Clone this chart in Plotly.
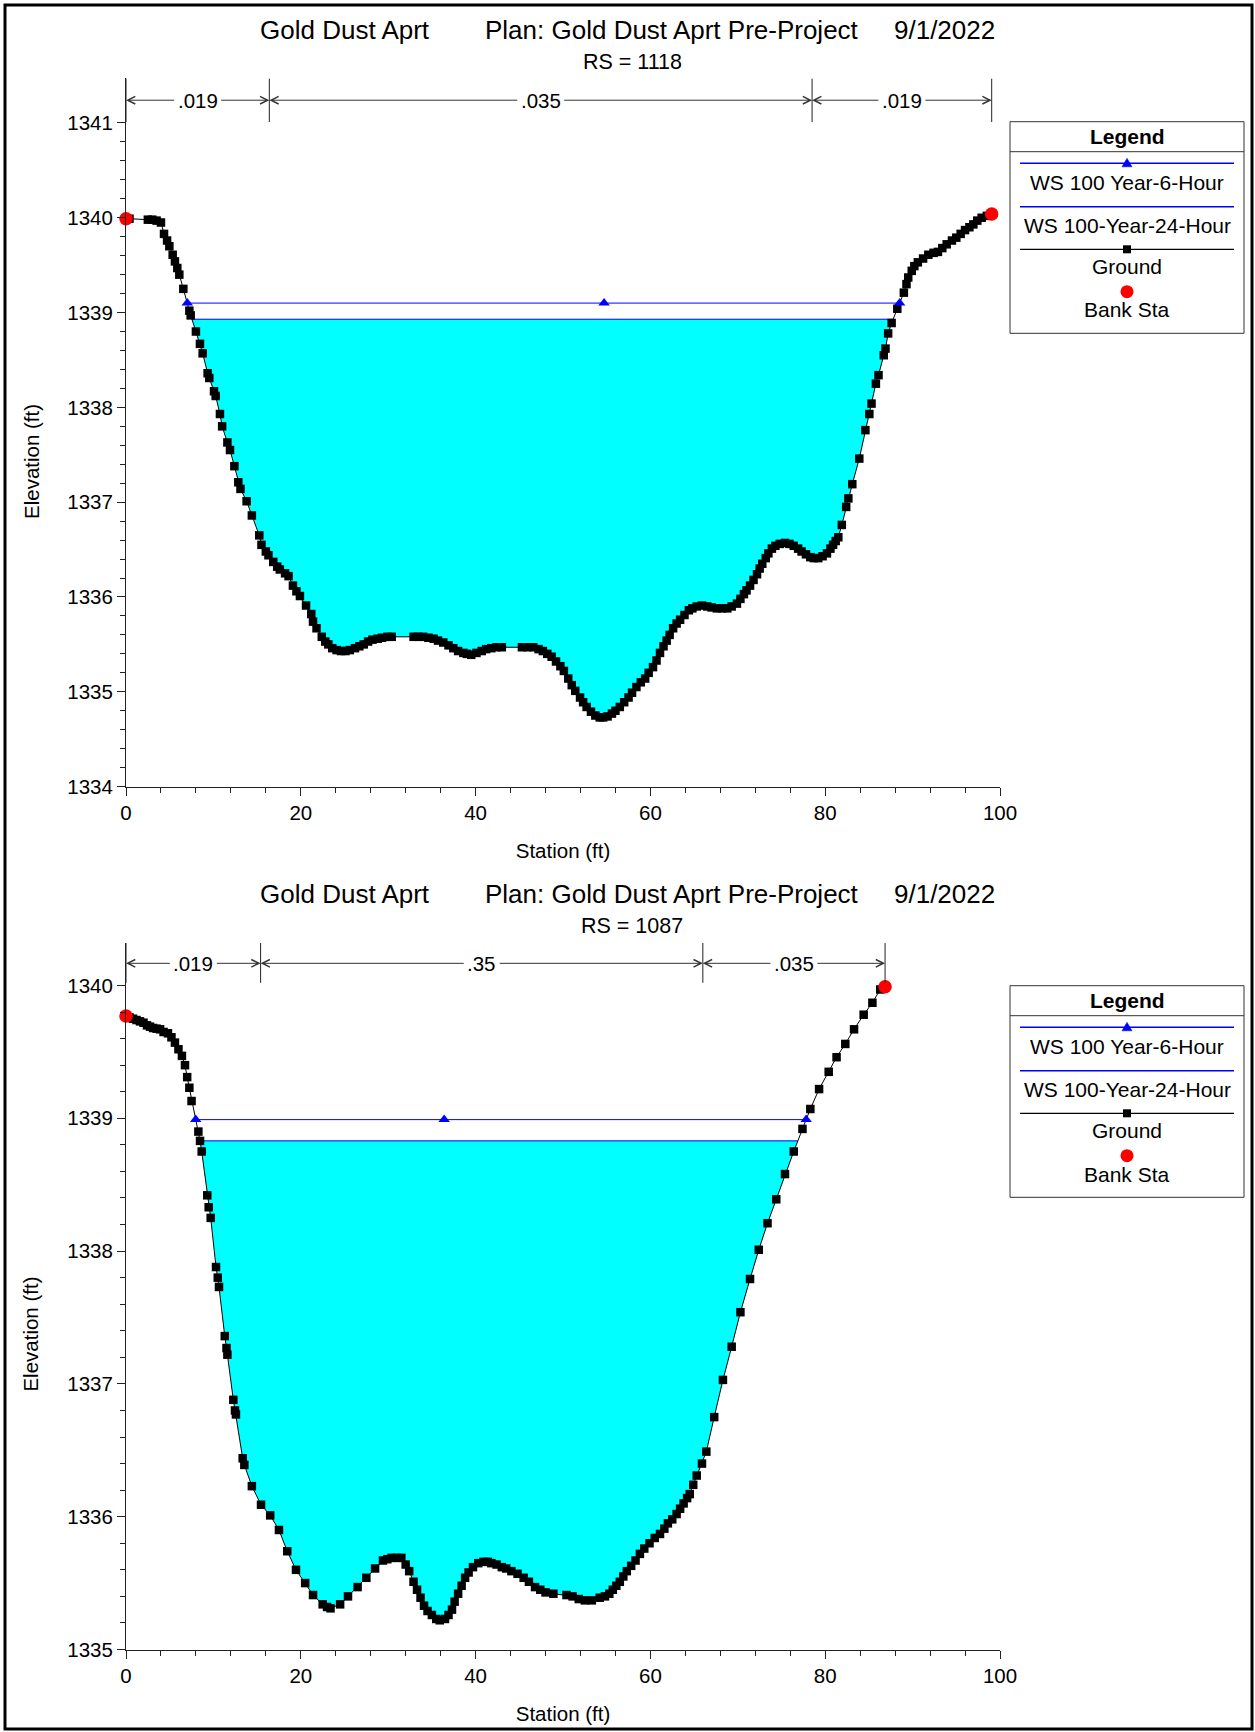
import numpy as np
import plotly.graph_objects as go

W, H = 1255, 1732

# ---------------- data : RS = 1118 ----------------
top_sta = [0.0, 0.4, 2.5, 3.0, 3.5, 4.0, 4.35, 4.7, 4.96, 5.34, 5.6, 5.87, 6.1, 6.56, 7.25, 7.4,
           8.0, 8.46, 8.77, 9.34, 9.53, 10.07, 10.26, 10.75, 11.0, 11.6, 11.9, 12.4, 12.85, 13.1,
           13.8, 14.4, 15.25, 15.5, 16.0, 16.3, 16.85, 17.3, 17.6, 18.2, 18.6, 19.1, 19.5, 19.9,
           20.6, 21.2, 21.4, 21.8, 22.4, 22.8, 23.15, 23.6, 24.1, 24.6, 25.1, 25.6, 26.2, 26.7,
           27.2, 27.7, 28.2, 28.8, 29.3, 29.9, 30.4, 32.9, 33.4, 34.0, 34.6, 35.2, 35.7, 36.3,
           36.9, 37.45, 38.0, 38.6, 39.0, 39.5, 40.1, 40.7, 41.2, 41.8, 42.4, 43.0, 45.3, 45.9,
           46.6, 47.2, 47.7, 48.2, 48.7, 49.2, 49.7, 50.1, 50.6, 51.0, 51.4, 51.95, 52.3, 52.7,
           53.2, 53.7, 54.2, 54.6, 55.1, 55.6, 56.0, 56.5, 57.0, 57.5, 57.9, 58.4, 58.9, 59.4,
           59.8, 60.3, 60.7, 61.1, 61.5, 61.86, 62.2, 62.6, 63.0, 63.4, 63.9, 64.4, 64.8, 65.3,
           65.9, 66.5, 67.0, 67.6, 68.2, 68.8, 69.3, 69.9, 70.3, 70.7, 71.0, 71.4, 71.8, 72.2,
           72.5, 72.8, 73.2, 73.5, 73.9, 74.3, 74.8, 75.4, 75.9, 76.4, 76.9, 77.3, 77.8, 78.3,
           78.7, 79.2, 79.7, 80.2, 80.6, 80.9, 81.2, 81.5, 81.9, 82.4, 82.65, 83.1, 83.9, 84.6,
           85.05, 85.3, 85.8, 86.1, 86.7, 86.9, 87.2, 87.6, 88.25, 89.0, 89.3, 89.5, 89.9, 90.2,
           90.6, 91.2, 91.8, 92.4, 92.9, 93.4, 93.9, 94.5, 95.0, 95.5, 96.0, 96.5, 96.95, 97.4,
           97.9, 98.5, 99.05]
top_elev = [1339.99, 1339.99, 1339.98, 1339.98, 1339.97, 1339.95, 1339.83, 1339.76, 1339.70,
            1339.61, 1339.54, 1339.47, 1339.40, 1339.25, 1339.02, 1338.97, 1338.80, 1338.67,
            1338.57, 1338.36, 1338.31, 1338.17, 1338.12, 1337.93, 1337.80, 1337.63, 1337.55,
            1337.38, 1337.21, 1337.14, 1337.01, 1336.86, 1336.65, 1336.55, 1336.48, 1336.44,
            1336.37, 1336.32, 1336.29, 1336.25, 1336.22, 1336.12, 1336.06, 1336.01, 1335.91,
            1335.82, 1335.74, 1335.67, 1335.58, 1335.53, 1335.50, 1335.46, 1335.44, 1335.43,
            1335.43, 1335.44, 1335.46, 1335.48, 1335.50, 1335.53, 1335.55, 1335.56, 1335.57,
            1335.58, 1335.58, 1335.58, 1335.58, 1335.58, 1335.57, 1335.56, 1335.54, 1335.52,
            1335.49, 1335.46, 1335.43, 1335.41, 1335.40, 1335.39, 1335.41, 1335.43, 1335.45,
            1335.46, 1335.47, 1335.47, 1335.47, 1335.47, 1335.47, 1335.45, 1335.43, 1335.40,
            1335.37, 1335.32, 1335.27, 1335.22, 1335.14, 1335.07, 1335.01, 1334.94, 1334.89,
            1334.84, 1334.79, 1334.75, 1334.73, 1334.73, 1334.74, 1334.77, 1334.80, 1334.84,
            1334.89, 1334.94, 1334.99, 1335.05, 1335.10, 1335.14, 1335.20, 1335.26, 1335.33,
            1335.41, 1335.48, 1335.54, 1335.60, 1335.67, 1335.72, 1335.76, 1335.81, 1335.86,
            1335.88, 1335.90, 1335.91, 1335.90, 1335.89, 1335.88, 1335.88, 1335.88, 1335.90,
            1335.93, 1335.98, 1336.03, 1336.07, 1336.12, 1336.18, 1336.24, 1336.30, 1336.35,
            1336.41, 1336.46, 1336.51, 1336.54, 1336.56, 1336.57, 1336.56, 1336.54, 1336.51,
            1336.48, 1336.45, 1336.42, 1336.41, 1336.41, 1336.43, 1336.46, 1336.51, 1336.55,
            1336.59, 1336.63, 1336.76, 1336.95, 1337.04, 1337.19, 1337.46, 1337.76, 1337.93,
            1338.04, 1338.25, 1338.34, 1338.55, 1338.62, 1338.78, 1338.89, 1339.04, 1339.21,
            1339.30, 1339.37, 1339.44, 1339.49, 1339.53, 1339.57, 1339.61, 1339.63, 1339.64,
            1339.68, 1339.72, 1339.76, 1339.79, 1339.83, 1339.87, 1339.90, 1339.93, 1339.97,
            1340.00, 1340.02, 1340.04]
top_bank_sta = [0.0, 99.05]
top_ws6 = 1339.10
top_ws24 = 1338.93
top_ws6_mid = 54.7
top_n_sta = [0.0, 16.4, 78.5, 99.05]
top_n_val = [".019", ".035", ".019"]

# ---------------- data : RS = 1087 ----------------
bot_sta = [0.0, 0.4, 0.8, 1.2, 1.6, 2.0, 2.4, 2.75, 3.1, 3.5, 3.9, 4.3, 4.8, 5.2, 5.6, 6.0, 6.4,
           6.75, 7.0, 7.25, 7.5, 8.28, 8.47, 8.66, 9.3, 9.46, 9.69, 10.3, 10.5, 10.64, 11.3, 11.5,
           11.6, 12.28, 12.47, 12.58, 13.35, 13.54, 14.4, 15.45, 16.5, 17.5, 18.45, 19.45, 20.5,
           21.4, 22.5, 23.0, 23.4, 24.5, 25.4, 26.5, 27.5, 28.5, 29.4, 29.9, 30.4, 31.0, 31.5,
           32.0, 32.4, 32.9, 33.3, 33.7, 34.1, 34.5, 35.0, 35.5, 35.9, 36.5, 36.9, 37.3, 37.6,
           38.0, 38.4, 38.8, 39.2, 39.7, 40.3, 40.9, 41.4, 41.8, 42.4, 43.0, 43.5, 44.1, 44.8,
           45.5, 46.1, 46.8, 47.4, 48.0, 48.9, 50.4, 51.1, 51.8, 52.5, 53.3, 54.2, 54.8, 55.3,
           55.7, 56.1, 56.5, 56.9, 57.3, 57.8, 58.3, 58.8, 59.3, 59.9, 60.5, 61.1, 61.6, 62.0,
           62.5, 63.0, 63.4, 63.8, 64.2, 64.5, 64.9, 65.3, 65.9, 66.4, 67.3, 68.3, 69.3, 70.3,
           71.4, 72.4, 73.4, 74.4, 75.4, 76.4, 77.4, 78.3, 79.3, 80.4, 81.3, 82.3, 83.3, 84.4,
           85.4, 86.3, 86.85]
bot_elev = [1339.77, 1339.76, 1339.75, 1339.74, 1339.73, 1339.72, 1339.70, 1339.69, 1339.68,
            1339.675, 1339.67, 1339.65, 1339.64, 1339.61, 1339.57, 1339.52, 1339.47, 1339.40,
            1339.31, 1339.23, 1339.13, 1338.90, 1338.83, 1338.75, 1338.42, 1338.33, 1338.25,
            1337.88, 1337.80, 1337.73, 1337.36, 1337.27, 1337.22, 1336.88, 1336.80, 1336.77,
            1336.44, 1336.39, 1336.23, 1336.09, 1336.01, 1335.90, 1335.74, 1335.60, 1335.50,
            1335.41, 1335.34, 1335.32, 1335.31, 1335.34, 1335.40, 1335.47, 1335.54, 1335.61,
            1335.67, 1335.68, 1335.69, 1335.69, 1335.69, 1335.64, 1335.59, 1335.51, 1335.45,
            1335.39, 1335.33, 1335.29, 1335.26, 1335.23, 1335.22, 1335.23, 1335.26, 1335.30,
            1335.36, 1335.42, 1335.48, 1335.54, 1335.58, 1335.62, 1335.65, 1335.66, 1335.66,
            1335.65, 1335.64, 1335.62, 1335.61, 1335.59, 1335.57, 1335.54, 1335.51, 1335.47,
            1335.45, 1335.43, 1335.42, 1335.41, 1335.40, 1335.38, 1335.37, 1335.37, 1335.39,
            1335.40, 1335.42, 1335.45, 1335.48, 1335.51, 1335.55, 1335.59, 1335.63, 1335.67,
            1335.72, 1335.76, 1335.80, 1335.84, 1335.87, 1335.91, 1335.95, 1335.98, 1336.02,
            1336.06, 1336.10, 1336.14, 1336.17, 1336.24, 1336.31, 1336.40, 1336.49, 1336.75,
            1337.03, 1337.28, 1337.54, 1337.79, 1338.01, 1338.21, 1338.39, 1338.58, 1338.75,
            1338.92, 1339.07, 1339.22, 1339.35, 1339.46, 1339.56, 1339.67, 1339.78, 1339.87,
            1339.97, 1339.99]
bot_bank_sta = [0.0, 86.85]
bot_ws6 = 1338.99
bot_ws24 = 1338.83
bot_ws6_mid = 36.4
bot_n_sta = [0.0, 15.4, 66.0, 86.85]
bot_n_val = [".019", ".35", ".035"]

title_parts = ["Gold Dust Aprt", "Plan: Gold Dust Aprt Pre-Project", "9/1/2022"]
rs_labels = ["RS = 1118", "RS = 1087"]
legend_names = ["WS 100 Year-6-Hour", "WS 100-Year-24-Hour", "Ground", "Bank Sta"]
x_tick_vals = [0, 20, 40, 60, 80, 100]
top_y_ticks = [1334, 1335, 1336, 1337, 1338, 1339, 1340, 1341]
bot_y_ticks = [1335, 1336, 1337, 1338, 1339, 1340]

# ---------------- styling / layout constants ----------------
FONT = "Liberation Sans, Arial, sans-serif"
BLUE = "#0000FF"
CYAN = "#00FFFF"
RED = "#FF0000"
AXC = "#222222"


def px(x):
    return x / W


def py(y):
    return 1 - y / H


panels = [
    dict(sta=top_sta, elev=top_elev, bank=top_bank_sta, ws6=top_ws6, ws24=top_ws24,
         mid=top_ws6_mid, nsta=top_n_sta, nval=top_n_val, rs=rs_labels[0],
         ybot=786.6, ytop=78.4, yrange=[1334, 1341.47], yticks=top_y_ticks,
         nlevel=1341.24, nbar=[1341.01, 1341.47], off=0.0, ytitle_y=462),
    dict(sta=bot_sta, elev=bot_elev, bank=bot_bank_sta, ws6=bot_ws6, ws24=bot_ws24,
         mid=bot_ws6_mid, nsta=bot_n_sta, nval=bot_n_val, rs=rs_labels[1],
         ybot=1649.5, ytop=943.0, yrange=[1335, 1340.32], yticks=bot_y_ticks,
         nlevel=1340.167, nbar=[1340.02, 1340.32], off=864.0, ytitle_y=1334.6),
]


def crossings(xs, ys, level):
    xl = xr = None
    for i in range(len(xs) - 1):
        if ys[i] >= level > ys[i + 1]:
            xl = xs[i] + (ys[i] - level) / (ys[i] - ys[i + 1]) * (xs[i + 1] - xs[i])
            break
    for i in range(len(xs) - 2, -1, -1):
        if ys[i] < level <= ys[i + 1]:
            xr = xs[i] + (level - ys[i]) / (ys[i + 1] - ys[i]) * (xs[i + 1] - xs[i])
            break
    return xl, xr


fig = go.Figure()
shapes = []
annotations = []
layout_axes = {}

for k, p in enumerate(panels):
    xa = "x" if k == 0 else "x2"
    ya = "y" if k == 0 else "y2"
    xs = p["sta"]
    ys = p["elev"]

    # water fill under WS 24 hour
    xl, xr = crossings(xs, ys, p["ws24"])
    inner = [(x, y) for x, y in zip(xs, ys) if xl < x < xr]
    fx = [xl] + [a for a, _ in inner] + [xr, xl]
    fy = [p["ws24"]] + [b for _, b in inner] + [p["ws24"], p["ws24"]]
    fig.add_trace(go.Scatter(x=fx, y=fy, mode="lines", fill="toself", fillcolor=CYAN,
                             line=dict(width=0, color=CYAN), xaxis=xa, yaxis=ya,
                             showlegend=False, hoverinfo="skip"))
    fig.add_trace(go.Scatter(x=[xl, xr], y=[p["ws24"], p["ws24"]], mode="lines",
                             line=dict(color=BLUE, width=1), name=legend_names[1],
                             xaxis=xa, yaxis=ya, showlegend=False))
    # ground
    fig.add_trace(go.Scatter(x=xs, y=ys, mode="lines+markers",
                             line=dict(color="black", width=1),
                             marker=dict(symbol="square", size=8.5, color="black"),
                             name=legend_names[2], xaxis=xa, yaxis=ya, showlegend=False,
                             cliponaxis=False))
    # WS 6 hour
    xl6, xr6 = crossings(xs, ys, p["ws6"])
    fig.add_trace(go.Scatter(x=[xl6, p["mid"], xr6], y=[p["ws6"]] * 3, mode="lines+markers",
                             line=dict(color=BLUE, width=1),
                             marker=dict(symbol="triangle-up", size=10, color=BLUE),
                             name=legend_names[0], xaxis=xa, yaxis=ya, showlegend=False,
                             cliponaxis=False))
    # bank stations
    fig.add_trace(go.Scatter(x=p["bank"], y=list(np.interp(p["bank"], xs, ys)), mode="markers",
                             marker=dict(symbol="circle", size=13.5, color=RED),
                             name=legend_names[3], xaxis=xa, yaxis=ya, showlegend=False,
                             cliponaxis=False))

    # axes
    minor_vals = [round(v, 1) for v in np.arange(p["yticks"][0], p["yticks"][-1] + 1e-6, 0.2)
                  if abs(v - round(v)) > 1e-6]
    axis_font = dict(family=FONT, size=20.5, color="black")
    layout_axes["xaxis" if k == 0 else "xaxis2"] = dict(
        domain=[px(126), px(1000)], anchor=ya, range=[0, 100], showgrid=False, zeroline=False,
        showline=True, linecolor=AXC, linewidth=1, ticks="outside", ticklen=8, tickwidth=1,
        tickcolor=AXC, tickmode="array", tickvals=x_tick_vals, tickfont=axis_font,
        minor=dict(ticks="outside", ticklen=5, tickcolor=AXC, dtick=4, tick0=0, showgrid=False),
        title=dict(text="Station (ft)", font=axis_font), automargin=False)
    layout_axes["yaxis" if k == 0 else "yaxis2"] = dict(
        domain=[py(p["ybot"]), py(p["ytop"])], anchor=xa, range=p["yrange"], showgrid=False,
        zeroline=False, showline=True, linecolor=AXC, linewidth=1, ticks="outside", ticklen=8,
        tickwidth=1, tickcolor=AXC, tickmode="array", tickvals=p["yticks"], tickfont=axis_font,
        minor=dict(ticks="outside", ticklen=5, tickcolor=AXC, tickmode="array",
                   tickvals=minor_vals, showgrid=False), automargin=False)

    # y title
    annotations.append(dict(text="Elevation (ft)", xref="paper", yref="paper", x=px(31),
                            y=py(p["ytitle_y"]), textangle=-90, showarrow=False,
                            xanchor="center", yanchor="middle",
                            font=dict(family=FONT, size=20.5, color="black")))

    # n-value bars and arrows
    for s in p["nsta"]:
        shapes.append(dict(type="line", xref=xa, yref=ya, x0=s, x1=s, y0=p["nbar"][0],
                           y1=p["nbar"][1], line=dict(color=AXC, width=1)))
    for i, lab in enumerate(p["nval"]):
        c = (p["nsta"][i] + p["nsta"][i + 1]) / 2
        for j, tgt in enumerate([p["nsta"][i], p["nsta"][i + 1]]):
            annotations.append(dict(
                text=lab, xref=xa, yref=ya, axref=xa, ayref=ya, x=tgt, y=p["nlevel"],
                ax=c, ay=p["nlevel"], showarrow=True, arrowhead=5, arrowsize=1.5,
                arrowwidth=1, arrowcolor="#333333", standoff=0, borderpad=3,
                font=dict(family=FONT, size=20.5,
                          color="black" if j == 0 else "rgba(0,0,0,0)")))

    # titles
    off = p["off"]
    annotations.append(dict(text=title_parts[0], xref="paper", yref="paper", x=px(258),
                            y=py(30 + off), xanchor="left", yanchor="middle", showarrow=False,
                            font=dict(family=FONT, size=26, color="black")))
    annotations.append(dict(text=title_parts[1], xref="paper", yref="paper", x=px(483),
                            y=py(30 + off), xanchor="left", yanchor="middle", showarrow=False,
                            font=dict(family=FONT, size=26, color="black")))
    annotations.append(dict(text=title_parts[2], xref="paper", yref="paper", x=px(996.5),
                            y=py(30 + off), xanchor="right", yanchor="middle", showarrow=False,
                            font=dict(family=FONT, size=26, color="black")))
    annotations.append(dict(text=p["rs"], xref="paper", yref="paper", x=px(632),
                            y=py(62 + off), xanchor="center", yanchor="middle", showarrow=False,
                            font=dict(family=FONT, size=21.5, color="black")))

    # custom legend box
    bx0, bx1 = 1010, 1244
    by0, by1 = 121.7 + off, 333.3 + off
    shapes.append(dict(type="rect", xref="paper", yref="paper", x0=px(bx0), x1=px(bx1),
                       y0=py(by0), y1=py(by1), line=dict(color="#333333", width=1)))
    shapes.append(dict(type="line", xref="paper", yref="paper", x0=px(bx0), x1=px(bx1),
                       y0=py(151.7 + off), y1=py(151.7 + off),
                       line=dict(color="#333333", width=1)))
    cx = 1127
    lf = dict(family=FONT, size=21, color="black")
    annotations.append(dict(text="<b>Legend</b>", xref="paper", yref="paper", x=px(cx),
                            y=py(136.7 + off), showarrow=False, xanchor="center",
                            yanchor="middle", font=lf))
    # item lines
    for ly, col in [(163.3, BLUE), (206.7, BLUE), (249.3, "black")]:
        shapes.append(dict(type="line", xref="paper", yref="paper", x0=px(1020), x1=px(1234),
                           y0=py(ly + off), y1=py(ly + off),
                           line=dict(color=col, width=1.5 if col == BLUE else 1.2)))
    # triangle glyph
    ty = 163.3 + off
    shapes.append(dict(type="path", xref="paper", yref="paper",
                       path="M {},{} L {},{} L {},{} Z".format(
                           px(cx - 5), py(ty + 3.5), px(cx + 5), py(ty + 3.5), px(cx), py(ty - 5)),
                       fillcolor=BLUE, line=dict(color=BLUE, width=0.5)))
    # square glyph
    sy = 249.3 + off
    shapes.append(dict(type="rect", xref="paper", yref="paper", x0=px(cx - 4), x1=px(cx + 4),
                       y0=py(sy - 4), y1=py(sy + 4), fillcolor="black",
                       line=dict(color="black", width=0)))
    # circle glyph
    cy = 291.7 + off
    shapes.append(dict(type="circle", xref="paper", yref="paper", x0=px(cx - 6.5),
                       x1=px(cx + 6.5), y0=py(cy - 6.5), y1=py(cy + 6.5), fillcolor=RED,
                       line=dict(color=RED, width=0)))
    for name, ty2 in zip(legend_names, [182.7, 225.7, 266.7, 310.0]):
        annotations.append(dict(text=name, xref="paper", yref="paper", x=px(cx),
                                y=py(ty2 + off), showarrow=False, xanchor="center",
                                yanchor="middle", font=lf))

# page frame
shapes.append(dict(type="rect", xref="paper", yref="paper", x0=px(5), x1=px(1252),
                   y0=py(5), y1=py(1729), line=dict(color="black", width=3)))

fig.update_layout(
    template="none",
    width=W, height=H,
    margin=dict(l=0, r=0, t=0, b=0, pad=0),
    paper_bgcolor="white", plot_bgcolor="white",
    showlegend=False,
    font=dict(family=FONT, size=20, color="black"),
    shapes=shapes, annotations=annotations,
    **layout_axes,
)

fig.write_html("out.html", include_plotlyjs=True,
               config={"displayModeBar": False},
               post_script="document.body.style.margin='0';")
